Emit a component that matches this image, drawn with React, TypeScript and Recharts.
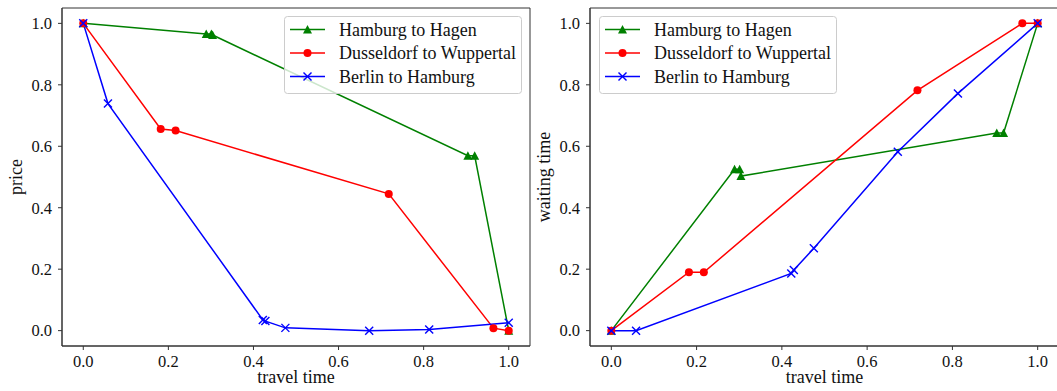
import React from 'react';
import { LineChart, Line, XAxis, YAxis, ReferenceArea } from 'recharts';

const FONT = '"Liberation Serif", "Times New Roman", serif';
const TEXT = '#111111';
const SPINE = '#333333';

// Hamburg to Hagen
const hagenTravel = [0, 0.289, 0.301, 0.304, 0.904, 0.92, 1.0];
const hagenPrice = [1.0, 0.965, 0.965, 0.962, 0.569, 0.569, 0.0];
const hagenWaiting = [0, 0.525, 0.525, 0.503, 0.643, 0.643, 1.0];

// Dusseldorf to Wuppertal
const dusTravel = [0, 0.182, 0.217, 0.718, 0.964, 1.0];
const dusPrice = [1.0, 0.656, 0.651, 0.445, 0.008, 0.0];
const dusWaiting = [0, 0.19, 0.19, 0.782, 1.0, 1.0];

// Berlin to Hamburg
const berlinTravel = [0, 0.058, 0.422, 0.428, 0.475, 0.672, 0.813, 1.0];
const berlinPrice = [1.0, 0.739, 0.035, 0.031, 0.009, 0.0, 0.004, 0.026];
const berlinWaiting = [0, 0, 0.186, 0.197, 0.268, 0.582, 0.772, 1.0];

const axisTicks = [0, 0.2, 0.4, 0.6, 0.8, 1.0];
const domain: [number, number] = [-0.05, 1.05];

const GREEN = '#008000';
const RED = '#ff0000';
const BLUE = '#0000ff';

const toPoints = (xs: number[], ys: number[]) => xs.map((x, i) => ({ x, y: ys[i] }));

type Marker = 'triangle' | 'circle' | 'x';

const markerShape = (kind: Marker, color: string, cx: number, cy: number, key?: React.Key) => {
  if (kind === 'triangle') {
    return (
      <path
        key={key}
        d={`M${cx},${cy - 4.5}L${cx + 4.5},${cy + 4}L${cx - 4.5},${cy + 4}Z`}
        fill={color}
      />
    );
  }
  if (kind === 'circle') {
    return <circle key={key} cx={cx} cy={cy} r={4} fill={color} />;
  }
  return (
    <g key={key} stroke={color} strokeWidth={1.4}>
      <line x1={cx - 4} y1={cy - 4} x2={cx + 4} y2={cy + 4} />
      <line x1={cx - 4} y1={cy + 4} x2={cx + 4} y2={cy - 4} />
    </g>
  );
};

const dotRenderer = (kind: Marker, color: string) => (props: any) =>
  markerShape(kind, color, props.cx, props.cy, props.index);

const routes = [
  { name: 'Hamburg to Hagen', color: GREEN, marker: 'triangle' as Marker },
  { name: 'Dusseldorf to Wuppertal', color: RED, marker: 'circle' as Marker },
  { name: 'Berlin to Hamburg', color: BLUE, marker: 'x' as Marker },
];

const RouteLegend = ({ left, top }: { left: number; top: number }) => {
  const rows = [13.5, 37, 60.5];
  return (
    <svg
      width={240}
      height={80}
      style={{ position: 'absolute', left, top, overflow: 'visible' }}
    >
      <rect x={0.5} y={0.5} width={237} height={77} rx={3} fill="#ffffff" fillOpacity={0.8} stroke="#cccccc" />
      {routes.map((r, i) => (
        <g key={r.name}>
          <line x1={6} x2={41} y1={rows[i]} y2={rows[i]} stroke={r.color} strokeWidth={1.5} />
          {markerShape(r.marker, r.color, 23.5, rows[i])}
          <text x={55} y={rows[i] + 6} fontFamily={FONT} fontSize={18} fill={TEXT}>
            {r.name}
          </text>
        </g>
      ))}
    </svg>
  );
};

type PanelProps = {
  left: number;
  marginLeft: number;
  marginRight: number;
  yLabel: string;
  hagen: number[];
  dus: number[];
  berlin: number[];
  legendLeft: number;
};

const Panel = ({ left, marginLeft, marginRight, yLabel, hagen, dus, berlin, legendLeft }: PanelProps) => {
  const tickStyle = { fill: TEXT, fontSize: 16.5, fontFamily: FONT };
  return (
    <div style={{ position: 'absolute', left, top: 0, width: 535, height: 391 }}>
      <LineChart
        width={535}
        height={391}
        margin={{ top: 8, right: marginRight, bottom: 15, left: marginLeft }}
      >
        <XAxis
          dataKey="x"
          type="number"
          domain={domain}
          ticks={axisTicks}
          allowDataOverflow
          height={30}
          tickSize={4}
          tickMargin={5}
          tick={tickStyle}
          tickFormatter={(v: number) => v.toFixed(1)}
          stroke={SPINE}
          label={(p: any) => (
            <text
              x={p.viewBox.x + p.viewBox.width / 2}
              y={p.viewBox.y + 37}
              textAnchor="middle"
              fontFamily={FONT}
              fontSize={18}
              fill={TEXT}
            >
              travel time
            </text>
          )}
        />
        <YAxis
          dataKey="y"
          type="number"
          domain={domain}
          ticks={axisTicks}
          allowDataOverflow
          width={40}
          tickSize={4}
          tickMargin={6}
          tick={tickStyle}
          tickFormatter={(v: number) => v.toFixed(1)}
          stroke={SPINE}
          label={(p: any) => {
            const x = p.viewBox.x + p.viewBox.width - 40.5;
            const y = p.viewBox.y + p.viewBox.height / 2;
            return (
              <text
                x={x}
                y={y}
                transform={`rotate(-90, ${x}, ${y})`}
                textAnchor="middle"
                fontFamily={FONT}
                fontSize={18}
                fill={TEXT}
              >
                {yLabel}
              </text>
            );
          }}
        />
        <ReferenceArea x1={-0.05} x2={1.05} y1={-0.05} y2={1.05} fill="none" stroke={SPINE} strokeWidth={1} />
        <Line
          data={toPoints(hagenTravel, hagen)}
          dataKey="y"
          type="linear"
          stroke={GREEN}
          strokeWidth={1.5}
          dot={dotRenderer('triangle', GREEN)}
          activeDot={false}
          isAnimationActive={false}
        />
        <Line
          data={toPoints(dusTravel, dus)}
          dataKey="y"
          type="linear"
          stroke={RED}
          strokeWidth={1.5}
          dot={dotRenderer('circle', RED)}
          activeDot={false}
          isAnimationActive={false}
        />
        <Line
          data={toPoints(berlinTravel, berlin)}
          dataKey="y"
          type="linear"
          stroke={BLUE}
          strokeWidth={1.5}
          dot={dotRenderer('x', BLUE)}
          activeDot={false}
          isAnimationActive={false}
        />
      </LineChart>
      <RouteLegend left={legendLeft} top={15.5} />
    </div>
  );
};

export default function App() {
  return (
    <div
      style={{
        position: 'absolute',
        left: 0,
        top: 0,
        width: 1057,
        height: 391,
        overflow: 'hidden',
        background: '#ffffff',
      }}
    >
      <Panel
        left={0}
        marginLeft={22}
        marginRight={5}
        yLabel="price"
        hagen={hagenPrice}
        dus={dusPrice}
        berlin={berlinPrice}
        legendLeft={283.5}
      />
      <Panel
        left={530}
        marginLeft={20}
        marginRight={6}
        yLabel="waiting time"
        hagen={hagenWaiting}
        dus={dusWaiting}
        berlin={berlinWaiting}
        legendLeft={68.5}
      />
    </div>
  );
}
